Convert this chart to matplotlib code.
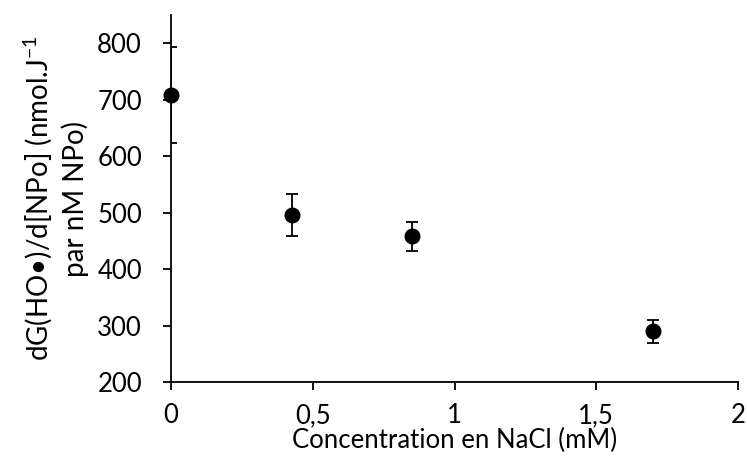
import matplotlib
matplotlib.use("Agg")
import matplotlib.pyplot as plt
from matplotlib.ticker import FuncFormatter

# Data
nacl_mM = [0.0, 0.425, 0.85, 1.7]
dG_values = [708, 496, 458, 290]
dG_errors = [85, 37, 25, 20]
x_ticks = [0, 0.5, 1, 1.5, 2]
y_ticks = [200, 300, 400, 500, 600, 700, 800]

plt.rcParams['font.family'] = ['Lato', 'DejaVu Sans']
plt.rcParams['mathtext.fontset'] = 'custom'
plt.rcParams['mathtext.rm'] = 'Lato'
plt.rcParams['mathtext.it'] = 'Lato:italic'

fig = plt.figure(figsize=(7.47, 4.70), dpi=100)
ax = fig.add_axes([0.229, 0.187, 0.759, 0.781])

# error bars (clipped at axes), markers unclipped
eb = ax.errorbar(nacl_mM, dG_values, yerr=dG_errors, fmt='none', ecolor='black',
                 elinewidth=1.3, capsize=4.5, capthick=1.3)
for art in list(eb.lines[1]) + list(eb.lines[2]):
    art.set_clip_on(True)
ax.plot(nacl_mM, dG_values, 'o', color='black', markersize=10.5, clip_on=False, zorder=5)

ax.set_xlim(0, 2)
ax.set_ylim(200, 850)
ax.set_xticks(x_ticks)
ax.set_yticks(y_ticks)
ax.xaxis.set_major_formatter(FuncFormatter(lambda v, p: ('%g' % v).replace('.', ',')))

for s in ['top', 'right']:
    ax.spines[s].set_visible(False)
for s in ['left', 'bottom']:
    ax.spines[s].set_linewidth(1.3)
ax.tick_params(direction='out', length=6, width=1.3, labelsize=18.5)
ax.tick_params(axis='y', pad=15)
ax.tick_params(axis='x', pad=9)

ax.set_xlabel('Concentration en NaCl (mM)', fontsize=18.5, labelpad=0)
ax.set_ylabel('dG(HO•)/d[NPo] (nmol.J$^{-1}$\npar nM NPo)', fontsize=20,
              linespacing=1.3, labelpad=6)

fig.savefig('out.png', dpi=100)
